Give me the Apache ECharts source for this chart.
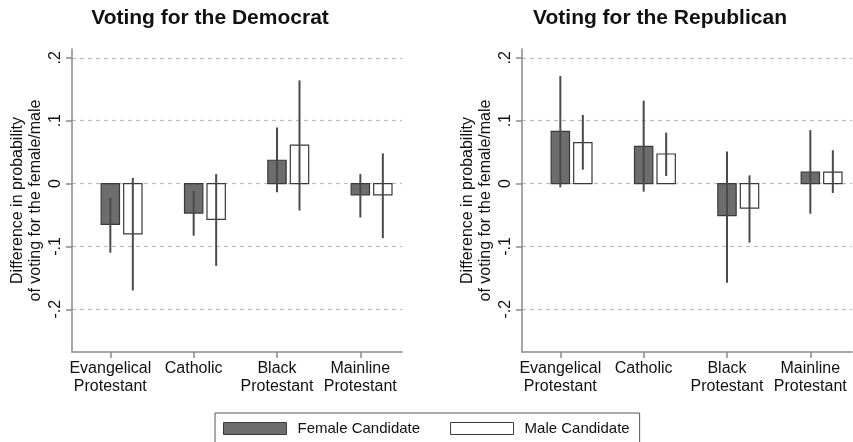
<!DOCTYPE html>
<html>
<head>
<meta charset="utf-8">
<script src="https://cdn.jsdelivr.net/npm/echarts@6/dist/echarts.min.js"></script>
<style>
  html, body { margin: 0; padding: 0; background: #fff; }
  #chart { width: 853px; height: 442px; }
</style>
</head>
<body>
<div id="chart"></div>
<script>
// Religious groups along the x axis
const categories = ['Evangelical\nProtestant', 'Catholic', 'Black\nProtestant', 'Mainline\nProtestant'];
const yTicks = [-0.2, -0.1, 0, 0.1, 0.2];
const yTickLabels = ['-.2', '-.1', '0', '.1', '.2'];
const panelTitles = ['Voting for the Democrat', 'Voting for the Republican'];

// Difference in probability, Democrat panel
const demFemale = [-0.065, -0.047, 0.037, -0.018];
const demFemaleLow = [-0.110, -0.083, -0.014, -0.054];
const demFemaleHigh = [-0.023, -0.012, 0.089, 0.015];
const demMale = [-0.080, -0.057, 0.061, -0.018];
const demMaleLow = [-0.170, -0.131, -0.043, -0.087];
const demMaleHigh = [0.009, 0.015, 0.164, 0.048];

// Difference in probability, Republican panel
const repFemale = [0.083, 0.059, -0.051, 0.018];
const repFemaleLow = [-0.006, -0.013, -0.158, -0.048];
const repFemaleHigh = [0.171, 0.132, 0.051, 0.085];
const repMale = [0.065, 0.047, -0.039, 0.018];
const repMaleLow = [0.022, 0.012, -0.094, -0.015];
const repMaleHigh = [0.109, 0.081, 0.013, 0.053];

const FONT = '"Liberation Sans", Arial, Helvetica, sans-serif';
const FEMALE_FILL = '#6d6d6d';
const MALE_FILL = '#ffffff';
const BAR_EDGE = '#3a3a3a';
const WHISKER = '#4a4a4a';
const AXIS_GREY = '#8a8a8a';

const BAR_W = 0.22;      // bar width in x-axis units
const MALE_SHIFT = 0.27; // male bar sits to the right of the female bar

function barRenderer(shift, fill) {
  return function (params, api) {
    const x = api.value(0) + shift;
    const v = api.value(1);
    const base = api.coord([x, 0]);
    const top = api.coord([x, v]);
    const w = api.size([BAR_W, 0])[0];
    return {
      type: 'rect',
      shape: { x: base[0] - w / 2, y: Math.min(base[1], top[1]), width: w, height: Math.abs(top[1] - base[1]) },
      style: { fill: fill, stroke: BAR_EDGE, lineWidth: 1.2 }
    };
  };
}

function whiskerRenderer(shift) {
  return function (params, api) {
    const x = api.value(0) + shift;
    const lo = api.coord([x, api.value(1)]);
    const hi = api.coord([x, api.value(2)]);
    return {
      type: 'line',
      shape: { x1: lo[0], y1: lo[1], x2: hi[0], y2: hi[1] },
      style: { stroke: WHISKER, lineWidth: 2 }
    };
  };
}

function gridFor(i) {
  return i === 0
    ? { left: 72, right: 451, top: 49, bottom: 90 }
    : { left: 522, right: 1, top: 49, bottom: 90 };
}

function xAxisFor(i) {
  return {
    type: 'value', gridIndex: i, min: -0.46, max: 3.5,
    axisLine: { show: true, onZero: false, lineStyle: { color: AXIS_GREY, width: 1.5 } },
    axisTick: { show: true, length: 6, customValues: [0, 1, 2, 3], lineStyle: { color: AXIS_GREY, width: 1.5 } },
    axisLabel: {
      customValues: [0, 1, 2, 3], margin: 8,
      formatter: v => categories[Math.round(v)],
      fontFamily: FONT, fontSize: 16, lineHeight: 18, color: '#111'
    },
    splitLine: { show: false }
  };
}

function yAxisFor(i) {
  return {
    type: 'value', gridIndex: i, min: -0.268, max: 0.214,
    name: 'Difference in probability\nof voting for the female/male',
    nameLocation: 'middle', nameRotate: 90, nameGap: 27,
    nameTextStyle: { fontFamily: FONT, fontSize: 16, lineHeight: 18, color: '#111' },
    axisLine: { show: true, onZero: false, lineStyle: { color: AXIS_GREY, width: 1.5 } },
    axisTick: { show: true, length: 6, customValues: yTicks, lineStyle: { color: AXIS_GREY, width: 1.5 } },
    axisLabel: {
      customValues: yTicks, rotate: 90, margin: 8,
      formatter: v => yTickLabels[yTicks.findIndex(t => Math.abs(t - v) < 1e-6)],
      fontFamily: FONT, fontSize: 16, color: '#111'
    },
    splitLine: { show: true, lineStyle: { color: '#bdbdbd', type: [4, 4], width: 1.2 } }
  };
}

function panelSeries(i, female, fLow, fHigh, male, mLow, mHigh) {
  const idx = categories.map((_, k) => k);
  return [
    {
      name: 'Female Candidate', type: 'custom', xAxisIndex: i, yAxisIndex: i,
      renderItem: barRenderer(0, FEMALE_FILL),
      itemStyle: { color: FEMALE_FILL, borderColor: BAR_EDGE },
      encode: { x: 0, y: 1 },
      data: idx.map(k => [k, female[k]])
    },
    {
      name: 'Male Candidate', type: 'custom', xAxisIndex: i, yAxisIndex: i,
      renderItem: barRenderer(MALE_SHIFT, MALE_FILL),
      itemStyle: { color: MALE_FILL, borderColor: BAR_EDGE },
      encode: { x: 0, y: 1 },
      data: idx.map(k => [k, male[k]])
    },
    {
      name: 'female-ci', type: 'custom', xAxisIndex: i, yAxisIndex: i,
      renderItem: whiskerRenderer(0),
      encode: { x: 0, y: [1, 2] }, z: 5,
      data: idx.map(k => [k, fLow[k], fHigh[k]])
    },
    {
      name: 'male-ci', type: 'custom', xAxisIndex: i, yAxisIndex: i,
      renderItem: whiskerRenderer(MALE_SHIFT),
      encode: { x: 0, y: [1, 2] }, z: 5,
      data: idx.map(k => [k, mLow[k], mHigh[k]])
    }
  ];
}

const chart = echarts.init(document.getElementById('chart'), null, { renderer: 'canvas' });
chart.setOption({
  animation: false,
  backgroundColor: '#ffffff',
  title: [
    { text: panelTitles[0], left: 205, top: 3, textAlign: 'center',
      textStyle: { fontFamily: FONT, fontSize: 21, fontWeight: 'bold', color: '#111' } },
    { text: panelTitles[1], left: 655, top: 3, textAlign: 'center',
      textStyle: { fontFamily: FONT, fontSize: 21, fontWeight: 'bold', color: '#111' } }
  ],
  legend: {
    left: 215, top: 413,
    selectedMode: false,
    padding: [8, 10, 7, 8],
    itemGap: 30, itemWidth: 63, itemHeight: 12,
    borderColor: '#555', borderWidth: 1,
    textStyle: { fontFamily: FONT, fontSize: 15, color: '#111', padding: [0, 0, 0, 6] },
    data: [
      { name: 'Female Candidate', icon: 'rect', itemStyle: { color: FEMALE_FILL, borderColor: BAR_EDGE, borderWidth: 1 } },
      { name: 'Male Candidate', icon: 'rect', itemStyle: { color: MALE_FILL, borderColor: BAR_EDGE, borderWidth: 1 } }
    ]
  },
  grid: [gridFor(0), gridFor(1)],
  xAxis: [xAxisFor(0), xAxisFor(1)],
  yAxis: [yAxisFor(0), yAxisFor(1)],
  series: [
    ...panelSeries(0, demFemale, demFemaleLow, demFemaleHigh, demMale, demMaleLow, demMaleHigh),
    ...panelSeries(1, repFemale, repFemaleLow, repFemaleHigh, repMale, repMaleLow, repMaleHigh)
  ]
});
</script>
</body>
</html>
